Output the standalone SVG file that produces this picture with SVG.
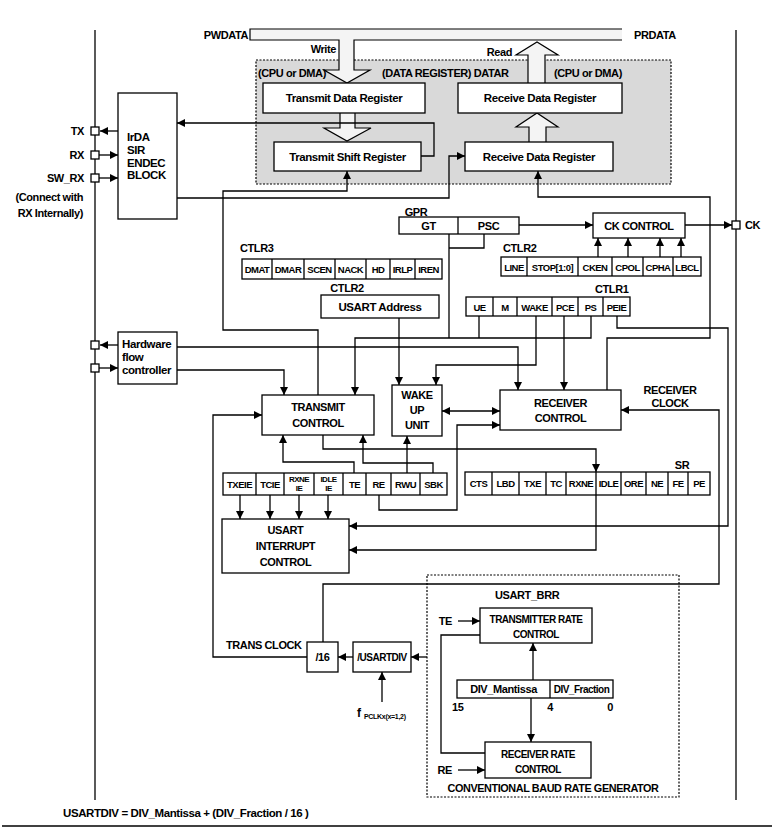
<svg xmlns="http://www.w3.org/2000/svg" width="778" height="840" viewBox="0 0 778 840">
<defs>
<marker id="a" viewBox="0 0 10 10" refX="10" refY="5" markerWidth="8" markerHeight="8" markerUnits="userSpaceOnUse" orient="auto-start-reverse"><path d="M0,0 L10,5 L0,10 z" fill="#000"/></marker>
<style>
.b{fill:#fff;stroke:#000;stroke-width:1.3}
.l{fill:none;stroke:#000;stroke-width:1.3}
.la{fill:none;stroke:#000;stroke-width:1.3;marker-end:url(#a)}
.ba{fill:#f4f4f4;stroke:#000;stroke-width:1.2}
.dash{stroke:#000;stroke-width:1.2;stroke-dasharray:2,1.5}
text{font-family:"Liberation Sans",Arial,sans-serif;font-weight:bold;font-size:11px;letter-spacing:-0.4px;fill:#000}
.m{text-anchor:middle}
.e{text-anchor:end}
.g{font-size:11.5px}
.r{font-size:10px;letter-spacing:-0.5px}
.s{font-size:9.5px;letter-spacing:-0.5px}
.xs{font-size:8px;letter-spacing:-0.5px}
</style>
</defs>
<rect width="778" height="840" fill="#fff"/>
<line x1="2" y1="826" x2="772" y2="826" stroke="#000" stroke-width="1.5"/>

<g id="buses">
<line x1="95" y1="30" x2="95" y2="800" class="l"/>
<line x1="736" y1="30" x2="736" y2="800" class="l"/>
<text x="248" y="39" class="e">PWDATA</text>
<text x="634" y="39">PRDATA</text>
</g>

<g id="datar">
<rect x="256" y="60" width="415" height="124" fill="#d9d9d9" class="dash"/>
<text x="258" y="77">(CPU or DMA)</text>
<text x="382" y="77">(DATA REGISTER) DATAR</text>
<text x="554" y="77">(CPU or DMA)</text>
</g>

<g id="bus-arrows">
<path d="M622,29 H250 V40 H339 V70 H324 L347,83 L370,70 H354 V40 H622" class="ba"/>
<path d="M528,83 V55 H516 L537,42 L558,55 H545 V83" class="ba"/>
<path d="M340,113 V128 H324 L347,141 L371,128 H355 V113" class="ba"/>
<path d="M529,142 V127 H516 L537,113 L558,127 H546 V142" class="ba"/>
<text x="336" y="53" class="e">Write</text>
<text x="512" y="56" class="e">Read</text>
</g>

<g id="tdr"><rect x="263" y="83" width="162" height="30" class="b"/><text x="344" y="102" class="m g">Transmit Data Register</text></g>
<g id="tsr"><rect x="274" y="142" width="147" height="29" class="b"/><text x="347.5" y="160.5" class="m g">Transmit Shift Register</text></g>
<g id="rdr1"><rect x="458" y="83" width="164" height="30" class="b"/><text x="540" y="102" class="m g">Receive Data Register</text></g>
<g id="rdr2"><rect x="465" y="142" width="148" height="29" class="b"/><text x="539" y="160.5" class="m g">Receive Data Register</text></g>

<g id="irda">
<rect x="118" y="93" width="59" height="126" class="b"/>
<text x="127" y="141" class="g">IrDA</text><text x="127" y="154" class="g">SIR</text><text x="127" y="167" class="g">ENDEC</text><text x="127" y="179" class="g">BLOCK</text>
</g>

<g id="pins">
<rect x="91" y="127" width="8" height="8" class="b"/>
<rect x="91" y="151" width="8" height="8" class="b"/>
<rect x="91" y="174" width="8" height="8" class="b"/>
<rect x="91" y="341" width="8" height="8" class="b"/>
<rect x="91" y="364" width="8" height="8" class="b"/>
<rect x="732" y="221" width="8" height="8" class="b"/>
<text x="84" y="135" class="e">TX</text>
<text x="84" y="159" class="e">RX</text>
<text x="84" y="182" class="e">SW_RX</text>
<text x="83" y="201" class="e">(Connect with</text>
<text x="83" y="217" class="e">RX Internally)</text>
<text x="745" y="229">CK</text>
</g>

<g id="gpr">
<text x="416" y="216" class="m">GPR</text>
<rect x="399" y="217" width="120" height="17" class="b"/>
<line x1="458" y1="217" x2="458" y2="234" class="l"/>
<text x="428.5" y="229.5" class="m">GT</text>
<text x="488.5" y="229.5" class="m">PSC</text>
</g>

<g id="ckcontrol"><rect x="593" y="213" width="92" height="25" class="b"/><text x="639" y="229.5" class="m">CK CONTROL</text></g>

<g id="ctlr3">
<text x="240" y="252">CTLR3</text>
<rect x="242" y="259" width="200" height="20" class="b"/>
<path d="M272,259V279M304,259V279M335,259V279M366,259V279M390,259V279M415,259V279" class="l"/>
<text x="257" y="273" class="m s">DMAT</text><text x="288" y="273" class="m s">DMAR</text><text x="319.5" y="273" class="m s">SCEN</text><text x="350.5" y="273" class="m s">NACK</text><text x="378" y="273" class="m s">HD</text><text x="402.5" y="273" class="m s">IRLP</text><text x="428.5" y="273" class="m s">IREN</text>
</g>

<g id="ctlr2b">
<text x="503" y="252">CTLR2</text>
<rect x="501" y="257" width="200" height="19" class="b"/>
<path d="M527,257V276M578,257V276M612,257V276M643,257V276M673,257V276" class="l"/>
<text x="514" y="270.5" class="m s">LINE</text><text x="552.5" y="270.5" class="m s">STOP[1:0]</text><text x="595" y="270.5" class="m s">CKEN</text><text x="627.5" y="270.5" class="m s">CPOL</text><text x="658" y="270.5" class="m s">CPHA</text><text x="687" y="270.5" class="m s">LBCL</text>
</g>

<g id="usartaddr">
<text x="347" y="292" class="m">CTLR2</text>
<rect x="321" y="295" width="118" height="23" class="b"/>
<text x="380" y="310.5" class="m g">USART Address</text>
</g>

<g id="ctlr1">
<text x="595" y="293">CTLR1</text>
<rect x="466" y="297" width="164" height="19" class="b"/>
<path d="M493,297V316M517,297V316M552,297V316M578,297V316M603,297V316" class="l"/>
<text x="479.5" y="310.5" class="m s">UE</text><text x="505" y="310.5" class="m s">M</text><text x="534.5" y="310.5" class="m s">WAKE</text><text x="565" y="310.5" class="m s">PCE</text><text x="590.5" y="310.5" class="m s">PS</text><text x="616.5" y="310.5" class="m s">PEIE</text>
</g>

<g id="hwflow">
<rect x="118" y="332" width="59" height="52" class="b"/>
<text x="122" y="348" class="g">Hardware</text><text x="122" y="361" class="g">flow</text><text x="122" y="374" class="g">controller</text>
</g>

<g id="txcontrol"><rect x="262" y="395" width="112" height="40" class="b"/><text x="318" y="411" class="m">TRANSMIT</text><text x="318" y="427" class="m">CONTROL</text></g>
<g id="wakeup"><rect x="392" y="385" width="50" height="51" class="b"/><text x="417" y="399" class="m">WAKE</text><text x="417" y="413.5" class="m">UP</text><text x="417" y="428.5" class="m">UNIT</text></g>
<g id="rxcontrol"><rect x="500" y="390" width="121" height="40" class="b"/><text x="560.5" y="407" class="m">RECEIVER</text><text x="560.5" y="422" class="m">CONTROL</text></g>
<text x="670" y="394" class="m">RECEIVER</text>
<text x="670" y="407" class="m">CLOCK</text>

<g id="cr1bits">
<rect x="223" y="473" width="224" height="22" class="b"/>
<path d="M256,473V495M284,473V495M314,473V495M343,473V495M366,473V495M391,473V495M420,473V495" class="l"/>
<text x="239.5" y="487.5" class="m s">TXEIE</text><text x="270" y="487.5" class="m s">TCIE</text>
<text x="299" y="482" class="m xs">RXNE</text><text x="299" y="491" class="m xs">IE</text>
<text x="328.5" y="482" class="m xs">IDLE</text><text x="328.5" y="491" class="m xs">IE</text>
<text x="354.5" y="487.5" class="m s">TE</text><text x="378.5" y="487.5" class="m s">RE</text><text x="405.5" y="487.5" class="m s">RWU</text><text x="433.5" y="487.5" class="m s">SBK</text>
</g>

<g id="sr">
<text x="682" y="469" class="m">SR</text>
<rect x="465" y="472" width="245" height="23" class="b"/>
<path d="M492,472V495M519,472V495M546,472V495M566,472V495M596,472V495M621,472V495M646,472V495M668,472V495M688,472V495" class="l"/>
<text x="478.5" y="487" class="m s">CTS</text><text x="505.5" y="487" class="m s">LBD</text><text x="532.5" y="487" class="m s">TXE</text><text x="556" y="487" class="m s">TC</text><text x="581" y="487" class="m s">RXNE</text><text x="608.5" y="487" class="m s">IDLE</text><text x="633.5" y="487" class="m s">ORE</text><text x="657" y="487" class="m s">NE</text><text x="678" y="487" class="m s">FE</text><text x="699" y="487" class="m s">PE</text>
</g>

<g id="intcontrol"><rect x="222" y="519" width="127" height="54" class="b"/><text x="285.5" y="534" class="m">USART</text><text x="285.5" y="550" class="m">INTERRUPT</text><text x="285.5" y="566" class="m">CONTROL</text></g>

<g id="div16"><rect x="307" y="642" width="31" height="30" class="b"/><text x="322.5" y="661" class="m">/16</text></g>
<g id="usartdiv"><rect x="353" y="642" width="58" height="30" class="b"/><text x="382" y="661" class="m r">/USARTDIV</text></g>
<text x="226" y="649">TRANS CLOCK</text>
<text x="357" y="717" style="font-size:12px">f</text>
<text x="364" y="719" style="font-size:7px;letter-spacing:-0.3px">PCLKx(x=1,2)</text>

<g id="brr">
<rect x="427" y="575" width="252" height="222" fill="none" class="dash"/>
<text x="495" y="599">USART_BRR</text>
<text x="452" y="625" class="e">TE</text>
<text x="452" y="774" class="e">RE</text>
<text x="553" y="792" class="m" textLength="211" lengthAdjust="spacingAndGlyphs">CONVENTIONAL BAUD RATE GENERATOR</text>
</g>
<g id="trc"><rect x="480" y="608" width="112" height="35" class="b"/><text x="536" y="623" class="m r">TRANSMITTER RATE</text><text x="536" y="638" class="m r">CONTROL</text></g>
<g id="divreg">
<rect x="457" y="680" width="156" height="18" class="b"/>
<line x1="550" y1="680" x2="550" y2="698" class="l"/>
<text x="503.5" y="693" class="m">DIV_Mantissa</text>
<text x="581.5" y="693" class="m r">DIV_Fraction</text>
<text x="452" y="711">15</text><text x="550" y="711" class="m">4</text><text x="610" y="711" class="m">0</text>
</g>
<g id="rrc"><rect x="485" y="742" width="106" height="36" class="b"/><text x="538" y="758" class="m r">RECEIVER RATE</text><text x="538" y="773" class="m r">CONTROL</text></g>

<text x="63" y="817" class="g">USARTDIV = DIV_Mantissa + (DIV_Fraction / 16 )</text>

<g id="connectors">
<path d="M118,131 H100" class="la"/>
<path d="M99,155 H118" class="la"/>
<path d="M99,178 H118" class="la"/>
<path d="M118,345 H100" class="la"/>
<path d="M99,368 H118" class="la"/>
<path d="M421,156 H434 V123 H177" class="la"/>
<path d="M177,198 H449 V156 H465" class="la"/>
<path d="M318,395 V330 H223 V191 H347 V171" class="la"/>
<path d="M607,390 V338 H710 V197 H538 V171" class="la"/>
<path d="M449,234 V338" class="l"/>
<path d="M484,234 V248 H449" class="l"/>
<path d="M591,316 V338 H355 V395" class="la"/>
<path d="M479,316 V338" class="l"/>
<path d="M519,225 H593" class="la"/>
<path d="M685,225 H732" class="la"/>
<path d="M598,257 V238" class="la"/>
<path d="M628,257 V238" class="la"/>
<path d="M660,257 V238" class="la"/>
<path d="M681,257 V238" class="la"/>
<path d="M399,318 V385" class="la"/>
<path d="M536,316 V365 H436 V385" class="la"/>
<path d="M564,316 V390" class="la"/>
<path d="M617,316 V328 H728 V526 H349" class="la"/>
<path d="M177,347 H518 V390" class="la"/>
<path d="M177,370 H284 V395" class="la"/>
<path d="M442,411 H500" class="la" style="marker-start:url(#a)"/>
<path d="M379,495 V510 H457 V425 H500" class="la"/>
<path d="M323,642 V584 H719 V410 H621" class="la"/>
<path d="M307,657 H213 V415 H262" class="la"/>
<path d="M354,473 V462 H283 V435" class="la"/>
<path d="M433,473 V463 H363 V435" class="la"/>
<path d="M407,473 V436" class="la"/>
<path d="M323,435 V449 H596 V472" class="la"/>
<path d="M596,495 V550 H349" class="la"/>
<path d="M240,495 V519" class="la"/>
<path d="M270,495 V519" class="la"/>
<path d="M299,495 V519" class="la"/>
<path d="M328,495 V519" class="la"/>
<path d="M353,657 H338" class="la"/>
<path d="M427,657 H411" class="la"/>
<path d="M382,702 V672" class="la"/>
<path d="M458,621 H480" class="la"/>
<path d="M458,770 H485" class="la"/>
<path d="M533,680 V643" class="la"/>
<path d="M531,698 V742" class="la"/>
<path d="M480,635 H441 V753 H485" class="l"/>
</g>
</svg>
